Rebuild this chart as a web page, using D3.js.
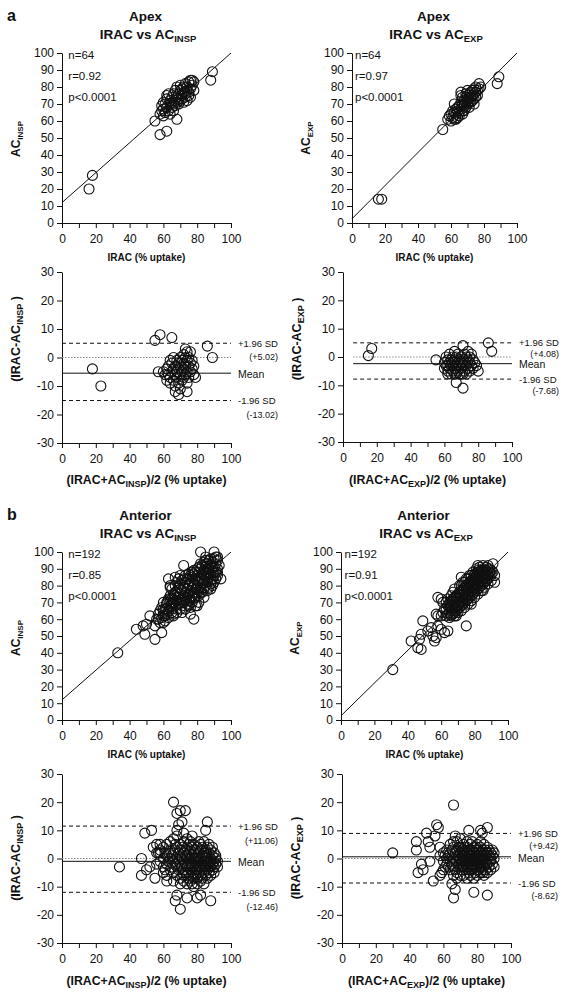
<!DOCTYPE html>
<html><head><meta charset="utf-8">
<script src="https://cdn.jsdelivr.net/npm/d3@7"></script>
<style>
html,body{margin:0;padding:0;background:#fff;}
svg{display:block;}
</style></head><body>
<script>
// ---------------- DATA ----------------
const xTicks = [0,10,20,30,40,50,60,70,80,90,100];
const yTicksScatter = [0,10,20,30,40,50,60,70,80,90,100];
const yTicksBA = [-30,-20,-10,0,10,20,30];

// Apex: IRAC vs AC_INSP (IRAC, AC_INSP)
const apexInsp = [[16,20],[18,28],[55,60],[58,52],[62,54],[68,61],[88,84],[89,89],
[58,64],[59,66],[59,69],[60,63],[60,67],[60,71],[61,65],[61,70],[62,68],[62,73],[62,75],[63,76],
[63,66],[64,70],[64,72],[64,64],[65,68],[65,74],[65,71],[66,70],[66,76],[66,66],[67,72],[67,69],
[67,78],[68,74],[68,71],[68,80],[69,73],[69,76],[69,70],[70,72],[70,78],[70,81],[71,75],[71,73],
[71,79],[72,77],[72,71],[72,80],[73,76],[73,74],[73,82],[74,78],[74,72],[74,80],[75,77],[75,83],
[75,75],[76,79],[76,84],[76,74],[77,81],[77,84],[78,83],[78,78]];
// Apex: IRAC vs AC_EXP
const apexExp = [[16,14],[18,14],[55,55],[88,82],[89,86],[77,82],
[58,61],[59,63],[60,60],[60,64],[61,62],[61,66],[62,65],[62,61],[62,70],[63,64],[63,67],[63,61],
[64,62],[64,66],[64,68],[65,65],[65,69],[65,63],[66,67],[66,71],[66,77],[66,75],[67,66],[67,70],
[67,74],[68,69],[68,72],[68,66],[69,71],[69,74],[69,68],[70,72],[70,75],[70,70],[70,78],[71,73],
[71,76],[71,68],[72,74],[72,77],[72,71],[73,75],[73,78],[73,72],[74,76],[74,79],[74,73],[75,77],
[75,74],[75,80],[76,78],[76,75],[77,79],[78,80],[74,70],[71,71],[67,64],[69,76]];
// Apex Bland-Altman INSP (mean, difference)
const apexInspBA = [[18,-4],[23,-10],[55,6],[58,8],[65,7],[86,4],[89,0],[57,-5],[67,-12],[69,-13],[74,-12],
[60,-5],[61,-6],[62,-4],[62,-8],[63,-3],[63,-6],[64,-1],[64,-7],[64,-9],[65,-2],[65,-5],[66,0],
[66,-4],[66,-8],[67,-3],[67,-6],[67,-10],[68,-1],[68,-5],[68,-7],[69,-2],[69,-4],[69,-9],[70,0],
[70,-3],[70,-6],[70,-11],[71,-1],[71,-5],[71,-8],[72,1],[72,-2],[72,-4],[72,-7],[73,3],[73,0],
[73,-3],[73,-6],[74,2],[74,-1],[74,-5],[74,-9],[75,0],[75,-3],[75,-7],[76,2],[76,-2],[76,-5],
[77,-1],[77,-4],[78,-3],[78,-6],[79,-7]];
// Apex Bland-Altman EXP
const apexExpBA = [[15,0.5],[17,3],[55,-1],[86,5],[88,2],[71,4],[67,-9],[71,-11],
[60,-2],[60,-4],[61,-3],[61,0],[62,-1],[62,-5],[62,-3],[63,-2],[63,1],[63,-4],[64,-1],[64,-6],
[64,-3],[65,0],[65,-2],[65,-5],[66,-1],[66,-4],[66,2],[67,-3],[67,0],[67,-6],[68,-2],[68,-5],
[68,1],[69,-1],[69,-3],[69,-6],[70,0],[70,-2],[70,-4],[71,-1],[71,-3],[71,-6],[72,1],[72,-2],
[72,-5],[73,0],[73,-3],[73,-6],[74,2],[74,-1],[74,-4],[75,0],[75,-2],[75,-5],[76,1],[76,-3],
[77,-1],[77,-4],[78,-2],[79,-3],[80,-5],[62,-6],[66,-6],[70,-6]];

// Anterior: IRAC vs AC_INSP
const antInspOut = [[33,40],[44,54],[48,56],[49,51],[50,57],[52,62],[55,48],[55,56],[57,60],[59,52],
[60,58],[60,70],[61,62],[62,66],[63,84],[64,80],[64,79],[67,85],[66,62],[68,64],[72,92],[76,63],
[78,60],[80,68],[81,70],[82,100],[90,100],[92,97],[94,84],[88,83],[85,97],
[56,60],[57,63],[58,65],[58,58],[59,61],[59,67],[60,62],[60,64],[61,66],[61,59],[62,63],[62,69],
[63,65],[63,61],[64,68],[64,72],[65,64],[66,69],[67,76],[68,82],[70,86],[71,64],[73,66],[60,66],
[75,68],[62,70],[63,72],[64,74],[65,70],[84,73],[86,77],[66,72],[88,78],[89,80],[90,82],[91,84],
[92,88],[93,92],[70,78],[80,83],[85,93],[78,89]];
const antInspCore = [[65,[66,72,78]],[66,[70,75,63]],[67,[68,74,80]],[68,[71,77,66]],[69,[73,79,69,84]],
[70,[70,75,81,66]],[71,[72,77,83,68]],[72,[74,79,84,70]],[73,[71,76,82,86]],[74,[73,78,84,69]],
[75,[75,80,84,71,87]],[76,[72,77,83,86,67]],[77,[74,79,85,88,70]],[78,[76,81,87,72,89]],
[79,[73,78,84,88,68]],[80,[75,80,86,90,78]],[81,[77,82,88,91,74]],[82,[79,84,90,93,76]],
[83,[76,81,87,92,83]],[84,[78,83,89,94,86]],[85,[80,85,91,95,88]],[86,[82,87,93,84,90]],
[87,[79,85,90,95,88]],[88,[81,87,92,96]],[89,[84,89,94,91]],[90,[86,91,96,88]],[91,[88,93,97]],[92,[86,90,95]]];
// Anterior: IRAC vs AC_EXP
const antExpOut = [[31,30],[42,47],[46,43],[47,48],[48,42],[48,51],[49,59],[52,53],[54,55],[55,50],
[56,47],[57,49],[57,63],[58,62],[58,56],[58,73],[60,72],[60,54],[61,70],[62,52],[64,53],[66,63],
[72,85],[75,56],[78,69],[82,92],[88,92],[91,93],[92,82],[85,77],
[60,62],[61,64],[62,66],[63,70],[64,72],[65,67],[66,74],[67,76],[68,78],[69,62],[70,64],[71,80],
[72,65],[73,82],[74,67],[75,84],[76,69],[77,86],[78,71],[79,88],[80,73],[81,90],[82,75],[83,91],
[84,77],[85,92],[86,79],[87,91],[88,81],[89,90],[90,83],[91,88],[92,86],[66,62],[68,62],[70,68],
[72,70],[74,72],[76,74],[78,76],[80,78],[82,80],[84,82],[86,84],[88,86],[75,79],[77,81],[79,83],
[81,85],[83,87],[85,89],[73,77],[71,75],[69,73],[67,71],[65,69],[80,86],[82,88]];
const antExpCore = [[63,[62,66]],[64,[63,68]],[65,[64,70,61]],[66,[65,71,68]],[67,[66,72,63]],
[68,[67,73,70,64]],[69,[68,74,71,65]],[70,[69,75,72,66]],[71,[70,76,73,67]],[72,[71,77,74,68,80]],
[73,[72,78,75,69]],[74,[73,79,76,70,82]],[75,[74,80,77,71]],[76,[75,81,78,72,84]],[77,[76,82,79,73]],
[78,[77,83,80,74,86]],[79,[78,84,81,75]],[80,[79,85,82,76,87]],[81,[80,86,83,77]],[82,[81,87,84,78,89]],
[83,[82,88,85,79]],[84,[83,89,86,80]],[85,[84,90,87,81]],[86,[85,88,82]],[87,[86,89,83]],
[88,[87,84,90]],[89,[88,85]],[90,[87,89]]];
// Anterior Bland-Altman INSP
const antInspBAOut = [[34,-3],[47,0],[47,-6],[49,9],[50,-4],[52,-3],[53,10],[55,-7],[57,2],[58,2],
[62,-8],[66,20],[68,16],[69,12],[70,17],[71,13],[73,17],[74,-14],[70,-18],[68,-13],[67,-15],
[86,13],[88,-15],[80,-14],[82,-13],[85,10],[60,-5],[56,5]];
const antInspBACore = [[60,[4,0,-3]],[62,[5,-2,-6,1]],[64,[3,-4,6,0]],[66,[2,-5,7,-1,-8]],
[68,[4,-3,8,0,-6,10]],[70,[5,-2,-7,1,3,-9]],[72,[6,-1,-4,2,-8,9,-6]],[74,[4,0,-3,-6,7,1,-9]],
[75,[2,-2,-5,5,-7]],[76,[3,-1,-4,6,-8,0]],[77,[1,-3,-6,4,-9,8]],[78,[2,-2,-5,5,-7,0,-10]],
[79,[0,-3,-6,3,-1]],[80,[1,-4,-7,4,-2,-9]],[81,[2,-1,-5,6,-3]],[82,[0,-3,-6,3,-8,5]],
[83,[1,-2,-4,4,-7]],[84,[2,-1,-5,-3,6,-9]],[85,[0,-3,-6,3,1]],[86,[4,-2,-4,1,-7]],
[87,[2,-1,-5,5,-3]],[88,[0,-3,3,-6,-1]],[89,[1,-2,-4,4]],[90,[-1,2,-3,-5]],[91,[0,-2,1]],
[92,[-3,-1]],[71,[0,-3,4,-5]],[73,[1,-2,3,-5]],[69,[-1,2,-4]],[67,[3,-2,5]],[65,[1,-3]],
[63,[2,-1]],[61,[-4,2]],[58,[3,-1,5]],[56,[2,-2]],[54,[4]],[76.5,[-2]],[80.5,[0]],[85.5,[-1,2]],
[79.5,[-4]],[83.5,[1]]];
// Anterior Bland-Altman EXP
const antExpBAOut = [[30,2],[44,6],[44,3],[45,-5],[47,-2],[48,-4],[50,9],[51,6],[52,4],[52,-1],
[54,-8],[55,8],[56,12],[57,11],[58,4],[59,-5],[60,-4],[66,19],[66,-14],[67,-11],[65,-9],[75,10],
[78,-12],[82,10],[83,9],[86,11],[86,-13],[90,2]];
const antExpBACore = [[62,[3,-2,0]],[64,[5,-1,-4,2]],[66,[4,0,-3,6,-6]],[68,[3,-1,-5,1,6,-7]],
[70,[4,0,-3,2,-6,7]],[71,[1,-2,3,-4,-1]],[72,[5,0,-3,2,-6,-1]],[73,[3,-1,-4,1,-2]],
[74,[4,0,-3,6,-7,2]],[75,[1,-2,3,-5,-1]],[76,[5,0,-3,2,-6,-1]],[77,[3,-1,-4,1,-2,6]],
[78,[4,0,-3,2,-7,-1]],[79,[1,-2,3,-5,-1]],[80,[5,0,-3,2,-6]],[81,[3,-1,-4,1,-2]],
[82,[4,0,-3,2,-5,6]],[83,[1,-2,3,-4]],[84,[5,0,-3,2,-6]],[85,[3,-1,-4,1]],[86,[4,0,-2,2,-5]],
[87,[1,-3,3]],[88,[2,-1,-4,0]],[89,[3,-2,1]],[90,[0,-3]],[63,[1,-3]],[65,[3,-2]],[67,[2,-4,8]],
[69,[0,-2,4]],[71.5,[2,-3]],[72.5,[1,4]],[73.5,[-2,0]],[74.5,[2,-4]],[75.5,[0,3]],[76.5,[-2,1]],
[77.5,[0,-3]],[78.5,[2,-1]],[79.5,[0,4]],[80.5,[-2,1]],[81.5,[0,-3]],[82.5,[2,-1]],[83.5,[0,-5]],
[85.5,[2,-2]],[61,[-3,1]],[58,[1,-6]],[60,[2,-1]]];

// regression lines (endpoints in data units)
const fitApexInsp = [[0,12],[100,100]];
const fitApexExp = [[0,2.5],[100,100]];
const fitAntInsp = [[0,12],[100,100]];
const fitAntExp = [[0,2.5],[100,100]];
// stats text
const statsApexInsp = ["n=64","r=0.92","p<0.0001"];
const statsApexExp = ["n=64","r=0.97","p<0.0001"];
const statsAntInsp = ["n=192","r=0.85","p<0.0001"];
const statsAntExp = ["n=192","r=0.91","p<0.0001"];
// Bland-Altman limits: [upper, mean, lower] as drawn
const limApexInsp = [5.0,-5.5,-15.1];
const limApexExp = [5.0,-2.35,-7.8];
const limAntInsp = [11.5,-1.0,-12.0];
const limAntExp = [8.9,0.6,-8.7];
const limTextApexInsp = ["(+5.02)","(-13.02)"];
const limTextApexExp = ["(+4.08)","(-7.68)"];
const limTextAntInsp = ["(+11.06)","(-12.46)"];
const limTextAntExp = ["(+9.42)","(-8.62)"];

// ---------------- DRAWING ----------------
const FONT = '"Liberation Sans", Arial, Helvetica, sans-serif';
const INK = "#111";
const svg = d3.select("body").append("svg").attr("width",570).attr("height",1005)
  .attr("font-family",FONT);
svg.append("rect").attr("width",570).attr("height",1005).attr("fill","#fff");

function expand(groups){ const out=[]; groups.forEach(([x,ys])=>ys.forEach(v=>out.push([x,v]))); return out; }

function rich(g, x, y, parts, o){
  const t = g.append("text").attr("x",x).attr("y",y)
    .attr("text-anchor",o.anchor||"middle").attr("font-size",o.size)
    .attr("font-weight",o.weight||"normal").attr("fill",INK).style("white-space","pre");
  if (o.rotate) t.attr("transform",`rotate(-90,${x},${y})`);
  let shifted=false;
  parts.forEach(p=>{
    const ts=t.append("tspan").text(p[0]);
    if (p[1]) { ts.attr("font-size",o.sub).attr("dy",o.shift); shifted=true; }
    else if (shifted) { ts.attr("dy",-o.shift); shifted=false; }
  });
  return t;
}

function axes(g, x, y, yTicks, c){
  const ax = g.append("g").attr("transform",`translate(0,${c.yb})`)
    .call(d3.axisBottom(x).tickValues(xTicks).tickFormat(d=> d%20===0 ? String(d) : "")
      .tickSize(5).tickPadding(6).tickSizeOuter(0));
  const ay = g.append("g").attr("transform",`translate(${c.x0},0)`)
    .call(d3.axisLeft(y).tickValues(yTicks).tickFormat(d=>String(d))
      .tickSize(5).tickPadding(3).tickSizeOuter(0));
  [ax,ay].forEach(a=>{
    a.attr("font-family",FONT).attr("font-size",12);
    a.selectAll("path,line").attr("stroke",INK).attr("stroke-width",1);
    a.selectAll("text").attr("fill",INK);
  });
}

function circles(g, x, y, data){
  g.append("g").selectAll("circle").data(data).join("circle")
    .attr("cx",d=>x(d[0])).attr("cy",d=>y(d[1])).attr("r",5)
    .attr("fill","none").attr("stroke",INK).attr("stroke-width",1.1);
}

function scatterPanel(c){
  const g = svg.append("g");
  const x = d3.scaleLinear().domain([0,100]).range([c.x0,c.x1]);
  const y = d3.scaleLinear().domain([0,100]).range([c.yb,c.yt]);
  axes(g,x,y,yTicksScatter,c);
  g.append("line").attr("x1",x(c.fit[0][0])).attr("y1",y(c.fit[0][1]))
    .attr("x2",x(c.fit[1][0])).attr("y2",y(c.fit[1][1])).attr("stroke",INK).attr("stroke-width",1);
  circles(g,x,y,c.data);
  const offs=[6.3,27,48.3];
  c.stats.forEach((s,i)=> g.append("text").attr("x",c.x0+c.sdx).attr("y",c.yt+offs[i])
    .attr("font-size",11.5).attr("fill",INK).text(s));
  const cx=(c.x0+c.x1)/2;
  rich(g,cx-1,c.yt-32.3,[[c.title1]],{size:13.5,weight:"bold"});
  rich(g,cx+1.5,c.yt-14.2,[["IRAC vs AC"],[c.sub,true]],{size:13.5,sub:9.5,shift:3.5,weight:"bold"});
  rich(g,cx,c.yb+38,[["IRAC (% uptake)"]],{size:10,weight:"bold"});
  rich(g,c.x0-42.5,c.ylc,[["AC"],[c.sub,true]],{size:12,sub:8,shift:3,weight:"bold",rotate:true});
  if (c.letter) rich(g,7,c.yt-32.3,[[c.letter]],{size:16,weight:"bold",anchor:"start"});
}

function baPanel(c){
  const g = svg.append("g");
  const x = d3.scaleLinear().domain([0,100]).range([c.x0,c.x1]);
  const y = d3.scaleLinear().domain([-30,30]).range([c.yb,c.yt]);
  axes(g,x,y,yTicksBA,c);
  const xa=x(c.from), xb=x(100);
  g.append("line").attr("x1",xa).attr("x2",xb).attr("y1",y(0)).attr("y2",y(0))
    .attr("stroke","#888").attr("stroke-width",1).attr("stroke-dasharray","1.5,1.5");
  [[c.lim[0],"4,3"],[c.lim[1],null],[c.lim[2],"4,3"]].forEach(([v,dash])=>{
    const l=g.append("line").attr("x1",xa).attr("x2",xb).attr("y1",y(v)).attr("y2",y(v))
      .attr("stroke",INK).attr("stroke-width",1);
    if (dash) l.attr("stroke-dasharray",dash);
  });
  circles(g,x,y,c.data);
  const lx=c.x1+7, rx=c.x1+47;
  const t=(xx,yy,s,fs,anchor)=>g.append("text").attr("x",xx).attr("y",yy).attr("font-size",fs)
    .attr("text-anchor",anchor).attr("fill",INK).text(s);
  t(lx,y(c.lim[0])+3.5,"+1.96 SD",9.5,"start");
  t(rx,y(c.lim[0])+3.5+c.gap,c.limText[0],9,"end");
  t(lx,y(c.lim[1])+3.5+c.meanDy,"Mean",10.5,"start");
  t(lx,y(c.lim[2])+3.5,"-1.96 SD",9.5,"start");
  t(rx,y(c.lim[2])+3.5+c.gap,c.limText[1],9,"end");
  const cx=(c.x0+c.x1)/2;
  rich(g,cx,c.yb+c.xlDy,[["(IRAC+AC"],[c.sub,true],[")/2 (% uptake)"]],{size:12.3,sub:9,shift:3,weight:"bold"});
  rich(g,c.x0-42,c.ylc,[["(IRAC-AC"],[c.sub,true],[" )"]],{size:12.5,sub:9,shift:3,weight:"bold",rotate:true});
}

scatterPanel({x0:62,x1:231,yt:53,yb:223,data:apexInsp,fit:fitApexInsp,stats:statsApexInsp,sdx:6.3,
  title1:"Apex",sub:"INSP",ylc:139,letter:"a"});
scatterPanel({x0:352,x1:517,yt:53,yb:223,data:apexExp,fit:fitApexExp,stats:statsApexExp,sdx:3,
  title1:"Apex",sub:"EXP",ylc:138});
baPanel({x0:62,x1:231,yt:272,yb:443,data:apexInspBA,lim:limApexInsp,limText:limTextApexInsp,
  sub:"INSP",from:0,gap:13.5,meanDy:1,xlDy:41,ylc:339});
baPanel({x0:343,x1:512,yt:272,yb:442,data:apexExpBA,lim:limApexExp,limText:limTextApexExp,
  sub:"EXP",from:6,gap:11,meanDy:1,xlDy:42,ylc:339});
scatterPanel({x0:62,x1:231,yt:552,yb:720,data:antInspOut.concat(expand(antInspCore)),fit:fitAntInsp,
  stats:statsAntInsp,sdx:6.3,title1:"Anterior",sub:"INSP",ylc:638,letter:"b"});
scatterPanel({x0:341,x1:508,yt:552,yb:720,data:antExpOut.concat(expand(antExpCore)),fit:fitAntExp,
  stats:statsAntExp,sdx:3.6,title1:"Anterior",sub:"EXP",ylc:638});
baPanel({x0:62,x1:231,yt:774,yb:943,data:antInspBAOut.concat(expand(antInspBACore)),lim:limAntInsp,
  limText:limTextAntInsp,sub:"INSP",from:0,gap:14,meanDy:1,xlDy:42,ylc:858});
baPanel({x0:342,x1:511,yt:774,yb:943,data:antExpBAOut.concat(expand(antExpBACore)),lim:limAntExp,
  limText:limTextAntExp,sub:"EXP",from:0,gap:12.5,meanDy:1.5,xlDy:42,ylc:858});
</script></body></html>
